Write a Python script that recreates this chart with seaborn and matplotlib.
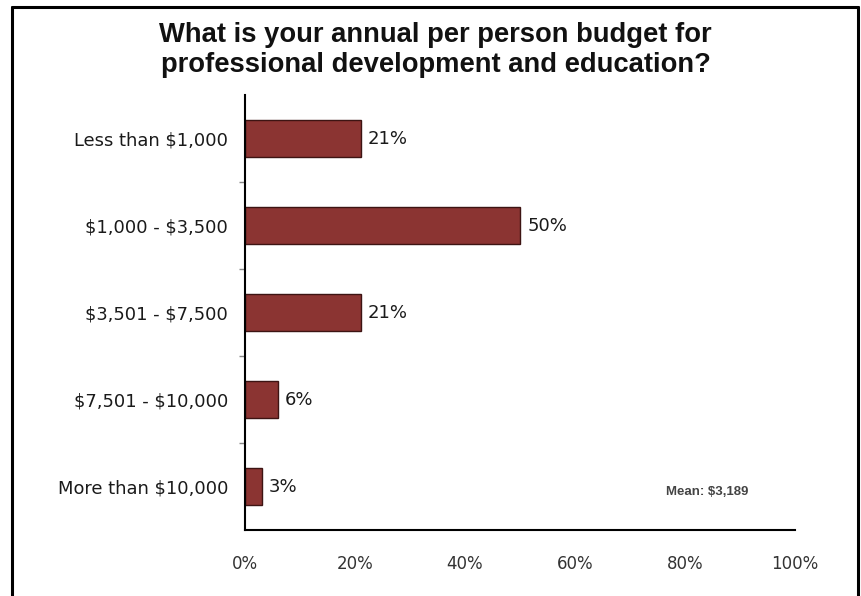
import matplotlib
matplotlib.use("Agg")
import matplotlib.pyplot as plt
from matplotlib.ticker import FixedLocator, PercentFormatter
from matplotlib.lines import Line2D
import pandas as pd
import seaborn as sns

categories = ["Less than $1,000", "$1,000 - $3,500", "$3,501 - $7,500",
              "$7,501 - $10,000", "More than $10,000"]
shares = [21, 50, 21, 6, 3]
x_ticks = [0, 20, 40, 60, 80, 100]
title = "What is your annual per person budget for\nprofessional development and education?"
mean_note = "Mean: $3,189"

sns.set_theme(style="white")
plt.rcParams["font.family"] = ["DejaVu Sans"]
plt.rcParams["text.parse_math"] = False

df = pd.DataFrame({"range": categories, "share": shares})

fig = plt.figure(figsize=(8.61, 5.96), dpi=100)
ax = fig.add_axes([0.2846, 0.1107, 0.6388, 0.7299])

sns.barplot(data=df, y="range", x="share", orient="h", color="#8b3432",
            saturation=1, width=0.43, edgecolor="#3d1413", linewidth=1.0, ax=ax)

ax.set_xlim(0, 100)
ax.set_ylim(4.5, -0.5)
ax.set_xlabel("")
ax.set_ylabel("")

for s in ["top", "right"]:
    ax.spines[s].set_visible(False)
for s in ["left", "bottom"]:
    ax.spines[s].set_color("black")
    ax.spines[s].set_linewidth(1.5)

ax.xaxis.set_major_locator(FixedLocator(x_ticks))
ax.xaxis.set_major_formatter(PercentFormatter(decimals=0))
ax.tick_params(axis="x", direction="out", length=3, width=1, color="#999999",
               labelsize=12, labelcolor="#333333", pad=15)
ax.tick_params(axis="y", which="major", length=0, labelsize=12.9,
               labelcolor="#1a1a1a", pad=12)
ax.yaxis.set_minor_locator(FixedLocator([0.5, 1.5, 2.5, 3.5]))
ax.tick_params(axis="y", which="minor", direction="out", length=4, width=1,
               color="#888888", left=True)

for i, v in enumerate(shares):
    ax.text(v + 1.3, i, f"{v}%", va="center", ha="left", fontsize=13,
            color="#1a1a1a")

ax.text(0.765, 0.087, mean_note, transform=ax.transAxes, fontsize=9.5,
        fontweight="bold", color="#444444", va="center", ha="left",
        family=["Liberation Sans Narrow", "Liberation Sans", "DejaVu Sans"])

fig.text(0.506, 0.916, title, ha="center", va="center", fontsize=19.7,
         fontweight="bold", linespacing=1.2, color="#111111",
         family=["Liberation Sans", "DejaVu Sans"])

# frame around the chart
for xs, ys in [([12, 12], [0, 589]), ([12, 858], [589, 589]), ([858, 858], [0, 589])]:
    fig.add_artist(Line2D([x / 861 for x in xs], [y / 596 for y in ys],
                          transform=fig.transFigure, color="black", linewidth=2.2))

fig.savefig("out.png", dpi=100)
